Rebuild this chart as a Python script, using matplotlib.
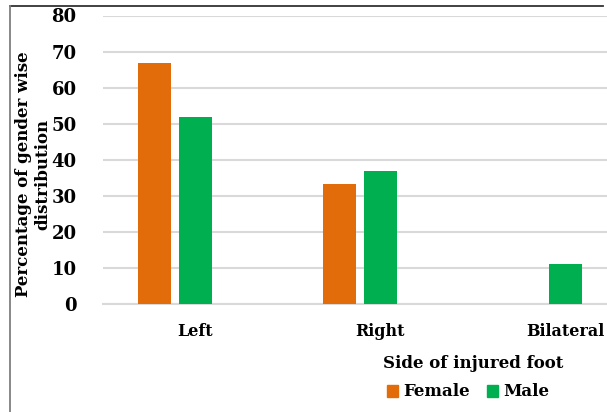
import numpy as np
import matplotlib
matplotlib.use('Agg')
import matplotlib.pyplot as plt
import matplotlib.transforms as mtransforms
from matplotlib.lines import Line2D
from matplotlib.patches import Patch

### Data
sides = ['Left', 'Right', 'Bilateral']
female = [66.7, 33.3, 0.0]
male = [51.9, 37.0, 11.1]

ORANGE = '#E36C0A'
GREEN = '#00B050'
GRID = '#D9D9D9'

plt.rcParams['font.family'] = ['DejaVu Serif']
plt.rcParams['font.weight'] = 'bold'

W, H = 607, 412
fig = plt.figure(figsize=(W / 100, H / 100), dpi=100)
ax = fig.add_axes([103 / W, (H - 304) / H, 1 - 103 / W, (304 - 15.5) / H])

x = np.arange(len(sides))
bw = 0.178
ax.bar(x - 0.112, female, bw, color=ORANGE, label='Female', zorder=3)
ax.bar(x + 0.112, male, bw, color=GREEN, label='Male', zorder=3)

ax.set_xlim(-0.39, 2.335)
ax.set_ylim(0, 80)
ax.set_yticks(range(0, 81, 10))
ax.yaxis.grid(True, color=GRID, linewidth=1.5, zorder=0)
ax.set_axisbelow(True)
for s in ['top', 'right', 'left']:
    ax.spines[s].set_visible(False)
ax.spines['bottom'].set_color(GRID)
ax.spines['bottom'].set_linewidth(1.5)
ax.tick_params(axis='both', length=0, labelsize=13)
ax.tick_params(axis='y', pad=19)

ax.set_xticks(x)
ax.set_xticklabels(sides, fontsize=11.5)
ax.tick_params(axis='x', pad=14)
shift = mtransforms.ScaledTranslation(20 / 100, 0, fig.dpi_scale_trans)
for lbl in ax.get_xticklabels():
    lbl.set_transform(lbl.get_transform() + shift)

fig.text(33 / W, 1 - 174 / H, 'Percentage of gender wise\ndistribution',
         rotation=90, ha='center', va='center', fontsize=12,
         fontweight='bold', linespacing=1.15)
fig.text(473 / W, 1 - 363 / H, 'Side of injured foot', ha='center',
         va='center', fontsize=12, fontweight='bold')

handles = [Patch(color=ORANGE, label='Female'), Patch(color=GREEN, label='Male')]
fig.legend(handles=handles, loc='center', bbox_to_anchor=(468 / W, 1 - 392 / H),
           ncol=2, frameon=False, fontsize=12, handlelength=0.7,
           handleheight=0.7, handletextpad=0.3, columnspacing=1.0)

# outer frame (top and left edges)
fig.add_artist(Line2D([9.5 / W, 603 / W], [1 - 6 / H, 1 - 6 / H],
                      transform=fig.transFigure, color='#333333', linewidth=1.3))
fig.add_artist(Line2D([9.5 / W, 9.5 / W], [0, 1 - 6 / H],
                      transform=fig.transFigure, color='#7F7F7F', linewidth=1.3))

fig.savefig('out.png', dpi=100)
